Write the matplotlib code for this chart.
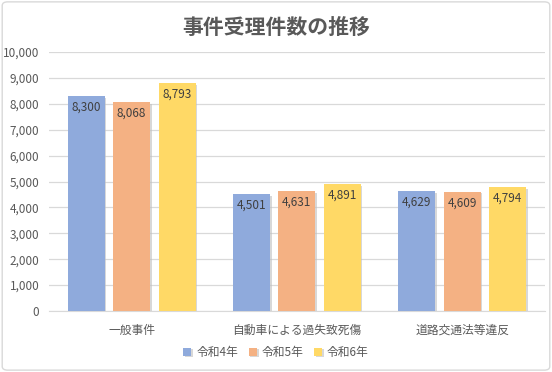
import matplotlib.pyplot as plt
import matplotlib.patheffects as pe
from matplotlib.patches import FancyBboxPatch
import numpy as np

plt.rcParams['font.family'] = ['Noto Sans CJK JP', 'DejaVu Sans']

# データ
categories = ['一般事件', '自動車による過失致死傷', '道路交通法等違反']
series_names = ['令和4年', '令和5年', '令和6年']
r4 = [8300, 4501, 4629]
r5 = [8068, 4631, 4609]
r6 = [8793, 4891, 4794]
colors = ['#8FAADC', '#F4B183', '#FFD966']

fig = plt.figure(figsize=(5.52, 3.72), dpi=100)
# 外枠
fig.patches.append(FancyBboxPatch((0.004, 0.005), 0.992, 0.99, boxstyle='round,pad=0,rounding_size=0.01',
                                  transform=fig.transFigure, fill=False, edgecolor='#D9D9D9', linewidth=1))
ax = fig.add_axes([0.0888, 0.164, 0.898, 0.696])

x = np.arange(len(categories))
width = 0.224
step = 0.275
shadow = [pe.SimplePatchShadow(offset=(1.2, -1.2), shadow_rgbFace='#BFBFBF', alpha=0.6), pe.Normal()]
for i, (vals, name) in enumerate(zip([r4, r5, r6], series_names)):
    bars = ax.bar(x + (i - 1) * step, vals, width, color=colors[i], label=name, zorder=3)
    for b in bars:
        b.set_path_effects(shadow)
    for xi, v in zip(x + (i - 1) * step, vals):
        ax.text(xi, v - 180, f'{v:,}', ha='center', va='top', fontsize=8.5, color='#404040', zorder=4)

ax.set_xlim(-0.5, 2.5)
ax.set_ylim(0, 10000)
ax.set_yticks(np.arange(0, 10001, 1000))
ax.set_yticklabels([f'{v:,}' for v in range(0, 10001, 1000)])
ax.set_xticks(x)
ax.set_xticklabels(categories)
ax.grid(axis='y', color='#D9D9D9', linewidth=0.9, zorder=0)
for s in ['top', 'right', 'left']:
    ax.spines[s].set_visible(False)
ax.spines['bottom'].set_color('#D9D9D9')
ax.tick_params(axis='both', length=0, labelsize=8.5, colors='#595959')
ax.tick_params(axis='x', pad=9)
ax.tick_params(axis='y', pad=7)

fig.text(0.5, 0.925, '事件受理件数の推移', ha='center', va='center', fontsize=15,
         fontweight='bold', color='#595959')

handles, labels = ax.get_legend_handles_labels()
fig.legend(handles, labels, loc='center', bbox_to_anchor=(0.5, 0.053), ncol=3, frameon=False,
           fontsize=8.5, labelcolor='#595959', handlelength=0.7, handleheight=0.7,
           handletextpad=0.4, columnspacing=0.9)

fig.savefig('out.png', dpi=100)
